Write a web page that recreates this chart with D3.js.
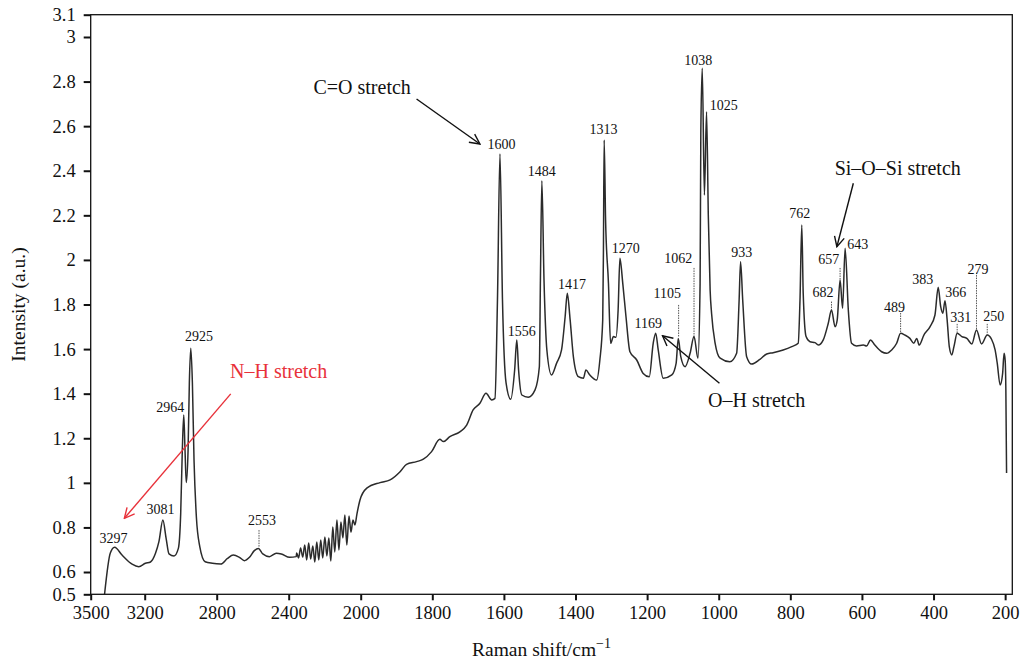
<!DOCTYPE html>
<html>
<head>
<meta charset="utf-8">
<script src="https://cdn.jsdelivr.net/npm/d3@7"></script>
<style>
  body { margin: 0; background: #fff; }
  svg { display: block; font-family: "Liberation Serif", "DejaVu Serif", serif; }
</style>
</head>
<body>
<script>
// Raman spectrum (shift in cm-1, intensity in a.u.)
var shift = [3423, 3391, 3367, 3326, 3270, 3233, 3196, 3168, 3140, 3121, 3099, 3081, 3065, 3037, 3013, 3000,
  2991, 2983, 2976, 2969, 2959, 2952, 2944, 2935, 2926, 2913, 2894, 2864, 2824, 2777, 2740, 2708, 2674, 2646,
  2618, 2591, 2568, 2544, 2507, 2469, 2441, 2395, 2358,
  2356, 2345, 2334, 2322, 2311, 2300, 2289, 2278, 2266, 2255, 2244, 2233, 2222, 2211, 2199, 2188, 2177, 2166,
  2155, 2144, 2132, 2121, 2110, 2099, 2088, 2077, 2065, 2054, 2043, 2032, 2021, 2004,
  1983, 1946, 1918, 1890, 1872, 1844, 1825, 1802, 1779, 1769, 1751, 1723, 1704, 1686, 1667, 1650, 1634, 1625,
  1618, 1611, 1604, 1594, 1581, 1570, 1564, 1559, 1550, 1532, 1513, 1501, 1498, 1494, 1488, 1480, 1467, 1453,
  1439, 1429, 1423, 1415, 1406, 1392, 1378, 1371, 1360, 1341, 1332, 1324, 1322, 1320, 1316, 1308, 1302, 1294,
  1287, 1281, 1276, 1268, 1259, 1248, 1229, 1211, 1194, 1183, 1176, 1169, 1155, 1131, 1119, 1113, 1106, 1094,
  1080, 1069, 1058, 1052, 1050, 1046, 1040, 1034, 1029, 1024, 1020, 1010, 996, 969, 950, 943, 939, 933, 922,
  908, 885, 866, 848, 820, 796, 778, 773, 768, 764, 756, 745, 731, 722, 708, 694, 685, 675, 669, 661, 654, 647,
  638, 629, 615, 596, 587, 576, 564, 545, 531, 517, 503, 492, 480, 466, 455, 447, 440, 427, 410, 396, 387, 380,
  374, 368, 362, 356, 349, 343, 334, 321, 307, 293, 280, 266, 250, 238, 228, 222, 214, 207, 203, 200, 198, 196];

var intensity = [0.50, 0.685, 0.711, 0.676, 0.635, 0.624, 0.639, 0.645, 0.684, 0.736, 0.833, 0.751, 0.681, 0.672,
  0.706, 0.863, 1.147, 1.304, 1.147, 1.001, 1.147, 1.447, 1.604, 1.447, 1.102, 0.848, 0.714, 0.646, 0.639, 0.636,
  0.661, 0.676, 0.666, 0.651, 0.666, 0.696, 0.706, 0.681, 0.669, 0.684, 0.681, 0.666, 0.669,
  0.685, 0.663, 0.708, 0.667, 0.721, 0.654, 0.730, 0.658, 0.717, 0.645, 0.735, 0.654, 0.744, 0.663, 0.757, 0.672,
  0.753, 0.649, 0.802, 0.690, 0.833, 0.699, 0.824, 0.753, 0.856, 0.721, 0.851, 0.779, 0.833, 0.811, 0.860, 0.923,
  0.976, 1.001, 1.013, 1.050, 1.083, 1.095, 1.106, 1.140, 1.195, 1.185, 1.207, 1.229, 1.259, 1.327, 1.357, 1.402,
  1.372, 1.379, 1.820, 2.475, 1.820, 1.448, 1.375, 1.506, 1.641, 1.506, 1.394, 1.384, 1.417, 1.521, 1.910, 2.355,
  1.910, 1.596, 1.484, 1.536, 1.596, 1.745, 1.850, 1.731, 1.566, 1.476, 1.469, 1.506, 1.484, 1.461, 1.551, 1.731,
  2.045, 2.538, 2.179, 1.895, 1.626, 1.656, 1.653, 1.775, 2.007, 1.895, 1.745, 1.588, 1.551, 1.491, 1.476, 1.626,
  1.671, 1.596, 1.469, 1.484, 1.536, 1.648, 1.566, 1.521, 1.581, 1.656, 1.559, 1.895, 2.568, 2.860, 2.291, 2.665,
  2.194, 1.865, 1.761, 1.626, 1.559, 1.543, 1.581, 1.820, 1.992, 1.820, 1.566, 1.533, 1.554, 1.578, 1.584, 1.596,
  1.611, 1.626, 1.820, 2.157, 1.850, 1.656, 1.633, 1.629, 1.618, 1.641, 1.716, 1.775, 1.700, 1.731, 1.910, 1.783,
  2.052, 1.775, 1.626, 1.614, 1.618, 1.614, 1.641, 1.618, 1.588, 1.581, 1.596, 1.626, 1.671, 1.663, 1.648, 1.626,
  1.648, 1.618, 1.663, 1.700, 1.753, 1.877, 1.790, 1.761, 1.817, 1.731, 1.611, 1.574, 1.611, 1.671, 1.656, 1.648,
  1.623, 1.686, 1.623, 1.663, 1.644, 1.596, 1.536, 1.439, 1.491, 1.581, 1.551, 1.417, 1.044];

var xTicks = [3500, 3200, 2800, 2400, 2000, 1800, 1600, 1400, 1200, 1000, 800, 600, 400, 200];
var yTicks = [0.5, 0.6, 0.8, 1, 1.2, 1.4, 1.6, 1.8, 2, 2.2, 2.4, 2.6, 2.8, 3, 3.1];

// peak labels: text, label centre (shift), label baseline (intensity)
var peakText = ["3297", "3081", "2964", "2925", "2553", "1600", "1556", "1484", "1417", "1313", "1270", "1169",
  "1105", "1062", "1038", "1025", "933", "762", "682", "657", "643", "489", "383", "366", "331", "279", "250"];
var peakX = [3373, 3112, 3058, 2898, 2548, 1607, 1550, 1494, 1410, 1322, 1260, 1197, 1144, 1113, 1057, 986,
  936, 774, 709, 693, 612, 509, 430, 338, 324, 276, 232];
var peakY = [0.729, 0.859, 1.319, 1.638, 0.811, 2.498, 1.660, 2.378, 1.868, 2.565, 2.032, 1.696, 1.828, 1.988,
  2.874, 2.673, 2.012, 2.187, 1.832, 1.982, 2.048, 1.765, 1.892, 1.832, 1.720, 1.937, 1.727];

// dotted leaders: shift, top, bottom
var leadX = [2565, 1112, 1069, 685, 661, 492, 334, 280, 250];
var leadTop = [0.788, 1.798, 1.964, 1.813, 1.964, 1.762, 1.713, 1.943, 1.713];
var leadBot = [0.712, 1.654, 1.654, 1.775, 1.910, 1.672, 1.672, 1.686, 1.663];

// band annotations
var bandText = ["C=O stretch", "Si\u2013O\u2013Si stretch", "O\u2013H stretch", "N\u2013H stretch"];
var bandTextX = [1996, 500, 894, 2456];
var bandTextY = [2.744, 2.381, 1.342, 1.469];
var arrowFrom = [[1844, 2.722], [624, 2.344], [998, 1.447], [2722, 1.399]];
var arrowTo = [[1667, 2.520], [670, 2.059], [1157, 1.660], [3313, 0.841]];
var bandColor = ["#111", "#111", "#111", "#e8313a"];

var W = 1023, H = 663;
var x0 = 90.7, x1 = 1012.3, y0 = 594.3, y1 = 14.7;

var svg = d3.select("body").append("svg").attr("width", W).attr("height", H);

// axis is compressed 2x above 2000 cm-1
var x = d3.scaleLinear().domain([3500, 2000, 180]).range([x0, 360.7, x1]);
var y = d3.scaleLinear().domain([0.5, 3.1]).range([y0, y1]);

svg.append("clipPath").attr("id", "plot")
  .append("rect").attr("x", x0).attr("y", y1).attr("width", x1 - x0).attr("height", y0 - y1);

var pts = shift.map(function(s, i) { return [s, intensity[i]]; });
var line = d3.line()
  .x(function(d) { return x(d[0]); })
  .y(function(d) { return y(d[1]); })
  .curve(d3.curveMonotoneX);

svg.append("path")
  .datum(pts)
  .attr("clip-path", "url(#plot)")
  .attr("d", line)
  .attr("fill", "none")
  .attr("stroke", "#2b2b2b")
  .attr("stroke-width", 1.5)
  .attr("stroke-linejoin", "round");

// frame
svg.append("rect")
  .attr("x", x0).attr("y", y1).attr("width", x1 - x0).attr("height", y0 - y1)
  .attr("fill", "none").attr("stroke", "#111").attr("stroke-width", 1.3);

// axes
var xAxis = svg.append("g").attr("transform", "translate(0," + y0 + ")")
  .call(d3.axisBottom(x).tickValues(xTicks).tickSize(6).tickPadding(6).tickFormat(d3.format("d")));
var yAxis = svg.append("g").attr("transform", "translate(" + x0 + ",0)")
  .call(d3.axisLeft(y).tickValues(yTicks).tickSize(7).tickPadding(8).tickFormat(function(d) { return String(d); }));

[xAxis, yAxis].forEach(function(g) {
  g.select(".domain").remove();
  g.selectAll(".tick line").attr("stroke", "#111").attr("stroke-width", 2);
  g.selectAll(".tick text").attr("fill", "#111").style("font-size", "18.5px")
    .style("font-family", "'Liberation Serif', serif");
});

// axis titles
svg.append("text")
  .attr("transform", "translate(25," + ((y0 + y1) / 2) + ") rotate(-90)")
  .attr("text-anchor", "middle")
  .style("font-size", "19.5px")
  .attr("fill", "#111")
  .text("Intensity (a.u.)");

var xt = svg.append("text")
  .attr("x", (x0 + x1) / 2 - 10).attr("y", 656)
  .attr("text-anchor", "middle")
  .style("font-size", "19.5px")
  .attr("fill", "#111");
xt.append("tspan").text("Raman shift/cm");
xt.append("tspan").attr("dy", -8).style("font-size", "14px").text("\u22121");

// dotted leaders
svg.selectAll(".lead").data(leadX).enter().append("line")
  .attr("class", "lead")
  .attr("x1", function(d) { return x(d); }).attr("x2", function(d) { return x(d); })
  .attr("y1", function(d, i) { return y(leadTop[i]); })
  .attr("y2", function(d, i) { return y(leadBot[i]); })
  .attr("stroke", "#555").attr("stroke-width", 1).attr("stroke-dasharray", "1.5,1");

// peak labels
svg.selectAll(".peak").data(peakText).enter().append("text")
  .attr("class", "peak")
  .attr("x", function(d, i) { return x(peakX[i]); })
  .attr("y", function(d, i) { return y(peakY[i]); })
  .attr("text-anchor", "middle")
  .style("font-size", "14px")
  .attr("fill", "#111")
  .text(function(d) { return d; });

// arrow heads (open V)
var defs = svg.append("defs");
bandColor.forEach(function(c, i) {
  defs.append("marker")
    .attr("id", "arr" + i)
    .attr("viewBox", "0 0 12 12")
    .attr("refX", 11).attr("refY", 6)
    .attr("markerWidth", 12).attr("markerHeight", 12)
    .attr("markerUnits", "userSpaceOnUse")
    .attr("orient", "auto")
    .append("path")
    .attr("d", "M1,1 L11,6 L1,11")
    .attr("fill", "none").attr("stroke", c).attr("stroke-width", 1.4);
});

svg.selectAll(".arrow").data(arrowFrom).enter().append("line")
  .attr("class", "arrow")
  .attr("x1", function(d) { return x(d[0]); }).attr("y1", function(d) { return y(d[1]); })
  .attr("x2", function(d, i) { return x(arrowTo[i][0]); })
  .attr("y2", function(d, i) { return y(arrowTo[i][1]); })
  .attr("stroke", function(d, i) { return bandColor[i]; })
  .attr("stroke-width", 1.4)
  .attr("marker-end", function(d, i) { return "url(#arr" + i + ")"; });

svg.selectAll(".band").data(bandText).enter().append("text")
  .attr("class", "band")
  .attr("x", function(d, i) { return x(bandTextX[i]); })
  .attr("y", function(d, i) { return y(bandTextY[i]); })
  .attr("text-anchor", "middle")
  .style("font-size", "20px")
  .attr("fill", function(d, i) { return bandColor[i]; })
  .text(function(d) { return d; });
</script>
</body>
</html>
